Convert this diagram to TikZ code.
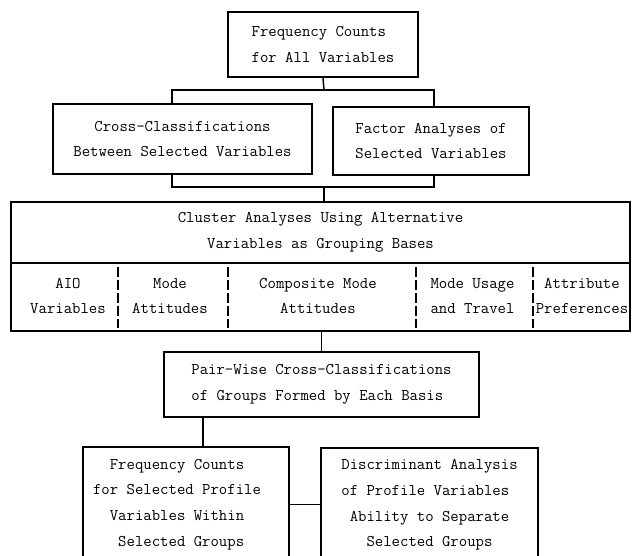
\documentclass[tikz,border=0pt]{standalone}
\usepackage{fontspec}
\begin{document}
\begin{tikzpicture}[x=1pt,y=-1pt,
  every node/.style={font=\ttfamily\fontsize{16.3}{25.7}\selectfont, inner sep=0pt},
  box/.style={draw, line width=1.5pt},
  conn/.style={line width=1.5pt},
  divider/.style={line width=1.5pt, dash pattern=on 10pt off 3pt}]
\useasboundingbox (0,0) rectangle (634,556);
% boxes
\node[box, minimum width=190pt, minimum height=65pt, align=left] (top) at (323,44.5)
  {Frequency Counts\\for All Variables};
\node[box, minimum width=259pt, minimum height=70pt, align=center] (cross) at (182.5,139)
  {Cross-Classifications\\Between Selected Variables};
\node[box, minimum width=196pt, minimum height=68pt, align=center] (factor) at (431,141)
  {Factor Analyses of\\Selected Variables};
\node[box, minimum width=619pt, minimum height=61pt, align=center] (cluster) at (320.5,232.5)
  {Cluster Analyses Using Alternative\\Variables as Grouping Bases};
\node[box, minimum width=619pt, minimum height=68pt] (bases) at (320.5,297) {};
\node[box, minimum width=315pt, minimum height=65pt, align=left] (pair) at (321.5,384.5)
  {Pair-Wise Cross-Classifications\\of Groups Formed by Each Basis};
\node[box, minimum width=206pt, minimum height=115pt] (freq2) at (186,504.5) {};
\node[align=center] (freq2t) at (177,504.5)
  {Frequency Counts\\for Selected Profile\\Variables Within\\\phantom{x}Selected Groups};
\node[box, minimum width=217pt, minimum height=114pt, align=center] (disc) at (429.5,505)
  {Discriminant Analysis\\of Profile Variables\phantom{x}\\Ability to Separate\\Selected Groups};
% column labels
\node[align=center] (c1) at (68,296) {AIO\\Variables};
\node[align=center] (c2) at (170,296) {Mode\\Attitudes};
\node[align=center] (c3) at (318,296) {Composite Mode\\Attitudes};
\node[align=left] (c4) at (472.5,296) {Mode Usage\\and Travel};
\node[align=center] (c5) at (582,296) {Attribute\\Preferences};
% dashed dividers
\draw[divider] (118,267) -- (118,328);
\draw[divider] (228,267) -- (228,328);
\draw[divider] (416,267) -- (416,328);
\draw[divider] (533,267) -- (533,328);
% bracket coordinates
\coordinate (b1) at (324,90);
\coordinate (b1l) at (172,90);
\coordinate (b1r) at (434,90);
\coordinate (b2) at (324,187);
\coordinate (b2l) at (172,187);
\coordinate (b2r) at (434,187);
\coordinate (p3) at (203,417);
% connectors
\draw[conn] (top.south) -- (b1);
\draw[conn] (b1l |- cross.north) -- (b1l) -- (b1r) -- (b1r |- factor.north);
\draw[conn] (b1l |- cross.south) -- (b2l) -- (b2r) -- (b2r |- factor.south);
\draw[conn] (b2) -- (b2 |- cluster.north);
\draw[conn] (pair.north |- bases.south) -- (pair.north);
\draw[conn] (p3) -- (p3 |- freq2.north);
\draw[conn] (freq2.east) -- (freq2.east -| disc.west);
\end{tikzpicture}
\end{document}
